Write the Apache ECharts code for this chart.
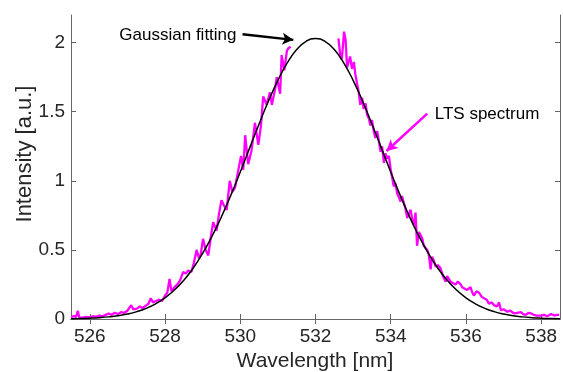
<!DOCTYPE html>
<html>
<head>
<meta charset="utf-8">
<script src="https://cdn.jsdelivr.net/npm/echarts@6/dist/echarts.min.js"></script>
<style>html,body{margin:0;padding:0;background:#fff}#c{width:563px;height:372px}</style>
</head>
<body>
<div id="c"></div>
<script>
// Tick labels
var xTicks = [526, 528, 530, 532, 534, 536, 538];
var yTicks = [0, 0.5, 1, 1.5, 2];

// Gaussian fitting curve
var fitX = [525.5,525.75,526,526.25,526.5,526.75,527,527.25,527.5,527.75,528,528.25,528.5,528.75,529,529.25,529.5,529.75,530,530.25,530.5,530.75,531,531.25,531.5,531.75,532,532.25,532.5,532.75,533,533.25,533.5,533.75,534,534.25,534.5,534.75,535,535.25,535.5,535.75,536,536.25,536.5,536.75,537,537.25,537.5,537.75,538,538.25,538.5];
var fitY = [0.0022,0.0037,0.0061,0.0098,0.0154,0.0237,0.0359,0.0532,0.0773,0.1100,0.1534,0.2097,0.2810,0.3690,0.4749,0.5989,0.7402,0.8967,1.0644,1.2383,1.4118,1.5775,1.7274,1.8538,1.9497,2.0096,2.0300,2.0096,1.9497,1.8538,1.7274,1.5775,1.4118,1.2383,1.0644,0.8967,0.7402,0.5989,0.4749,0.3690,0.2810,0.2097,0.1534,0.1100,0.0773,0.0532,0.0359,0.0237,0.0154,0.0098,0.0061,0.0037,0.0022];

// LTS spectrum, left segment
var specLX = [525.50,525.58,525.64,525.68,525.72,525.80,525.90,526.00,526.08,526.16,526.25,526.33,526.42,526.50,526.58,526.66,526.75,526.83,526.92,527.00,527.05,527.10,527.16,527.25,527.33,527.40,527.48,527.56,527.62,527.68,527.76,527.85,527.92,528.00,528.06,528.12,528.17,528.25,528.33,528.40,528.48,528.55,528.62,528.70,528.76,528.84,528.90,528.95,529.01,529.08,529.15,529.22,529.28,529.37,529.44,529.50,529.57,529.64,529.72,529.79,529.86,529.95,530.02,530.08,530.13,530.21,530.30,530.39,530.48,530.55,530.61,530.70,530.79,530.84,530.93,530.97,531.06,531.10,531.17,531.24,531.28,531.34];
var specLY = [0.015,0.02,0.018,0.06,0.012,0.01,0.015,0.012,0.02,0.015,0.025,0.02,0.03,0.04,0.03,0.045,0.035,0.05,0.045,0.06,0.05,0.1,0.07,0.075,0.09,0.08,0.095,0.11,0.15,0.12,0.13,0.14,0.13,0.17,0.19,0.29,0.2,0.23,0.25,0.28,0.34,0.33,0.35,0.34,0.4,0.5,0.44,0.47,0.58,0.5,0.46,0.6,0.70,0.64,0.77,0.86,0.82,0.79,1.0,0.92,0.95,1.08,1.18,1.08,1.33,1.12,1.22,1.42,1.26,1.40,1.61,1.55,1.64,1.55,1.67,1.75,1.63,1.91,1.80,1.94,1.96,1.97];

// LTS spectrum, right segment
var specRX = [532.61,532.66,532.70,532.76,532.80,532.84,532.92,532.97,533.02,533.06,533.10,533.15,533.19,533.24,533.28,533.33,533.37,533.42,533.46,533.50,533.55,533.59,533.64,533.69,533.73,533.77,533.82,533.86,533.90,533.95,534.00,534.08,534.13,534.17,534.22,534.26,534.30,534.35,534.39,534.44,534.48,534.53,534.57,534.61,534.66,534.70,534.75,534.79,534.84,534.88,534.93,534.97,535.01,535.06,535.10,535.15,535.19,535.25,535.32,535.39,535.46,535.50,535.54,535.59,535.64,535.72,535.78,535.86,535.90,535.95,536.03,536.12,536.17,536.21,536.28,536.35,536.42,536.48,536.55,536.61,536.68,536.75,536.82,536.88,536.93,537.00,537.10,537.18,537.28,537.36,537.46,537.52,537.59,537.66,537.73,537.80,537.88,538.00,538.08,538.16,538.26,538.35,538.42,538.48];
var specRY = [2.03,1.90,1.88,2.08,2.02,1.82,1.90,1.81,1.86,1.77,1.71,1.64,1.55,1.60,1.52,1.56,1.48,1.45,1.40,1.44,1.36,1.31,1.36,1.28,1.21,1.25,1.13,1.20,1.16,1.18,1.08,0.96,0.98,0.91,0.88,0.85,0.89,0.84,0.80,0.73,0.76,0.79,0.72,0.68,0.77,0.53,0.63,0.61,0.58,0.53,0.52,0.50,0.47,0.36,0.45,0.42,0.38,0.39,0.37,0.31,0.27,0.31,0.30,0.27,0.28,0.25,0.27,0.25,0.23,0.22,0.21,0.23,0.19,0.17,0.20,0.19,0.16,0.15,0.14,0.11,0.12,0.10,0.09,0.12,0.065,0.07,0.053,0.06,0.04,0.045,0.05,0.035,0.03,0.045,0.04,0.03,0.025,0.024,0.03,0.02,0.036,0.025,0.03,0.03];

// Annotation anchors (data units)
var gaussArrow = [[530.06, 2.06], [531.41, 2.02]];
var ltsArrow = [[534.97, 1.486], [533.89, 1.216]];

function zip(a, b) { return a.map(function (v, i) { return [v, b[i]]; }); }

var FONT = '"Liberation Sans", Arial, Helvetica, sans-serif';
var AX = '#666666';
var TXT = '#262626';

var chart = echarts.init(document.getElementById('c'), null, {renderer: 'canvas'});

function baseX(pos, showLabel) {
  return {
    type: 'value', position: pos, min: 525.5, max: 538.5,
    axisLine: {show: true, lineStyle: {color: AX, width: 1}},
    axisTick: {show: true, inside: true, length: 5, lineStyle: {color: AX}, customValues: xTicks},
    axisLabel: {show: showLabel, customValues: xTicks, fontFamily: FONT, fontSize: 19, color: TXT, margin: 8},
    splitLine: {show: false}
  };
}
function baseY(pos, showLabel) {
  return {
    type: 'value', position: pos, min: 0, max: 2.2,
    axisLine: {show: true, lineStyle: {color: AX, width: 1}},
    axisTick: {show: true, inside: true, length: 5, lineStyle: {color: AX}, customValues: yTicks},
    axisLabel: {show: showLabel, customValues: yTicks, fontFamily: FONT, fontSize: 19, color: TXT, margin: 6},
    splitLine: {show: false}
  };
}

chart.setOption({
  animation: false,
  backgroundColor: '#fff',
  grid: {left: 71, right: 3, top: 15, bottom: 53, containLabel: false},
  xAxis: [baseX('bottom', true), baseX('top', false)],
  yAxis: [baseY('left', true), baseY('right', false)],
  series: [
    {type: 'line', data: zip(specLX, specLY), showSymbol: false, symbol: 'none',
     lineStyle: {color: '#ff00ff', width: 2.3}, z: 2},
    {type: 'line', data: zip(specRX, specRY), showSymbol: false, symbol: 'none',
     lineStyle: {color: '#ff00ff', width: 2.3}, z: 2},
    {type: 'line', data: zip(fitX, fitY), showSymbol: false, symbol: 'none', smooth: true,
     lineStyle: {color: '#000', width: 1.5}, z: 3,
     markLine: {
       silent: true, animation: false, symbol: ['none', 'arrow'], symbolSize: [9, 11],
       label: {show: false},
       data: [
         [{coord: gaussArrow[0], lineStyle: {color: '#000', width: 2.5, type: 'solid'}}, {coord: gaussArrow[1]}],
         [{coord: ltsArrow[0], lineStyle: {color: '#ff00ff', width: 2.5, type: 'solid'}}, {coord: ltsArrow[1]}]
       ]
     }}
  ]
});

var gp = chart.convertToPixel({gridIndex: 0}, [529.9, 2.05]);
var lp = chart.convertToPixel({gridIndex: 0}, [535.17, 1.479]);

chart.setOption({
  graphic: [
    {type: 'text', x: gp[0], y: gp[1], style: {text: 'Gaussian fitting', fontFamily: FONT, fontSize: 17, fill: '#000', align: 'right', verticalAlign: 'middle'}},
    {type: 'text', x: lp[0], y: lp[1], style: {text: 'LTS spectrum', fontFamily: FONT, fontSize: 17, fill: '#000', align: 'left', verticalAlign: 'middle'}},
    {type: 'text', x: 315, y: 361, style: {text: 'Wavelength [nm]', fontFamily: FONT, fontSize: 21, fill: TXT, align: 'center', verticalAlign: 'middle'}},
    {type: 'text', x: 25, y: 154, rotation: Math.PI / 2, style: {text: 'Intensity [a.u.]', fontFamily: FONT, fontSize: 22, fill: TXT, align: 'center', verticalAlign: 'middle'}}
  ]
});
</script>
</body>
</html>
